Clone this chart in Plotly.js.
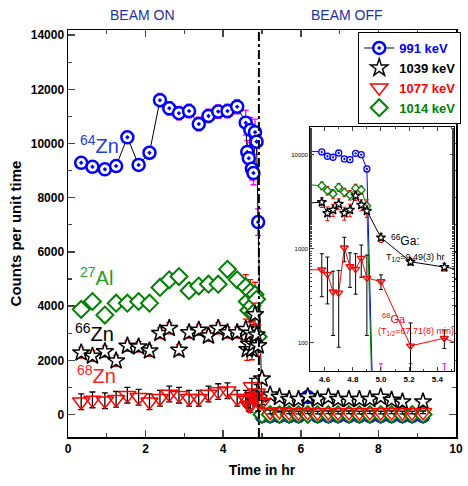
<!DOCTYPE html>
<html><head><meta charset="utf-8">
<script src="https://cdn.plot.ly/plotly-3.0.1.min.js"></script>
<style>html,body{margin:0;padding:0;background:#fff}#chart{width:468px;height:486px}</style>
</head><body><div id="chart"></div>
<script>
// ---- data ----
const timeHr = [0.34,0.63,0.95,1.24,1.53,1.82,2.10,2.37,2.61,2.86,3.12,3.37,3.62,3.87,4.11,4.36,
  4.58,4.62,4.66,4.70,4.74,4.78,4.82,4.86,4.90,
  5.00,5.21,5.45,5.70,5.94,6.18,6.43,6.71,6.96,7.24,7.51,7.78,8.06,8.34,8.62,8.87,9.15];
const cts991 = [9290,9140,9050,9170,10230,9210,9660,11600,11300,11120,11200,10720,11020,11180,11200,11360,
  10770,9690,9460,10500,9070,8910,10420,10070,7100,
  -60,-60,-60,-60,-60,650,-60,-60,-60,-60,-60,-60,-60,-60,-60,-60,-60];
const err991 = [200,200,200,200,220,200,220,250,250,250,250,250,250,250,250,260,
  460,430,440,460,420,430,480,470,490,
  60,60,60,60,60,60,60,60,60,60,60,60,60,60,60,60,60];
const cts1014 = [3880,4170,3670,4110,4110,4170,4110,4690,4970,5090,4570,4740,4810,4810,5360,4970,
  4710,4170,3850,4530,4010,3750,4430,4250,2870,
  0,0,0,0,0,0,0,0,0,0,0,0,0,0,0,0,0];
const err1014 = [130,130,130,130,130,130,130,130,130,130,130,130,130,130,130,130,
  450,420,430,450,420,430,450,440,460,
  40,40,40,40,40,40,40,40,40,40,40,40,40,40,40,40,40];
const cts1039 = [2280,2160,2320,1980,2530,2500,2350,3000,3180,2380,3020,3120,2900,3180,3020,3020,
  3140,2400,2600,3010,2400,2600,3690,2940,2540,
  1320,730,640,560,560,660,560,640,560,560,560,560,640,535,470,null,470];
const err1039 = [200,200,200,200,200,200,200,200,200,200,200,200,200,200,200,200,
  380,400,380,400,380,400,420,400,380,
  145,60,60,90,90,90,90,90,90,90,90,90,90,90,90,90,90];
const cts1077 = [470,540,510,560,715,635,470,600,755,715,600,600,755,845,880,600,
  600,540,350,340,1030,650,610,800,490,
  450,93,112,80,70,80,70,80,70,80,70,80,70,80,70,70,80];
const err1077 = [290,290,290,290,290,290,290,290,290,290,290,290,290,290,290,290,
  290,280,230,250,300,260,280,300,370,
  80,70,25,50,50,50,50,50,50,50,50,50,50,50,50,50,50];
const seriesNames = ['991 keV','1039 keV','1077 keV','1014 keV'];
const xTicks = [0,2,4,6,8,10];
const yTicks = [0,2000,4000,6000,8000,10000,12000,14000];
const insetYTicks = [100,1000,10000];
const insetYLabels = ['100','1000','10000'];

// ---- styling ----
const FONT = 'Liberation Sans, Arial, sans-serif';
const BLUE = '#0000ff', RED = '#ff0000', GREEN = '#008000', BLACK = '#000000', MAG = '#ff00ff';
const logFloor = arr => arr.map(v => (v === null ? null : Math.max(v, 0.01)));

// white-filled symbols hide the error bar inside the marker (as in the reference)
const specs = [
  {name: seriesNames[0], y: cts991, e: err991, sym: 'circle-dot', fill: '#fff', col: BLUE, ecol: MAG, size: 12, lw: 2.5, insSize: 6, mainLine: true},
  {name: seriesNames[1], y: cts1039, e: err1039, sym: 'star', fill: '#fff', col: BLACK, ecol: RED, size: 13, lw: 1.5, insSize: 7},
  {name: seriesNames[2], y: cts1077, e: err1077, sym: 'triangle-down-open', fill: RED, col: RED, ecol: BLACK, size: 15, lw: 1.5, insSize: 7},
  {name: seriesNames[3], y: cts1014, e: err1014, sym: 'diamond', fill: '#fff', col: GREEN, ecol: RED, size: 13, lw: 2, insSize: 6}
];

const traces = [];
const drawOrder = [0,3,1,2];
drawOrder.forEach(i => {
  const s = specs[i];
  traces.push({
    type: 'scatter', x: timeHr, y: s.y, xaxis: 'x', yaxis: 'y',
    mode: s.mainLine ? 'lines+markers' : 'markers',
    name: '<span style="color:' + s.col + '">' + s.name + '</span>',
    legendrank: i + 1,
    line: {color: BLACK, width: 1},
    marker: {symbol: s.sym, size: s.size, color: s.fill, line: {color: s.col, width: s.lw}},
    error_y: {type: 'data', array: s.e, visible: true, color: s.ecol, thickness: 1.3, width: 3},
    connectgaps: false
  });
});
drawOrder.forEach(i => {
  const s = specs[i];
  traces.push({
    type: 'scatter', x: timeHr, y: logFloor(s.y), xaxis: 'x2', yaxis: 'y2',
    mode: 'lines+markers', showlegend: false, cliponaxis: true,
    line: {color: s.col, width: 1},
    marker: {symbol: s.sym, size: s.insSize, color: s.fill, line: {color: s.col, width: 1.3}},
    error_y: {type: 'data', array: s.e, visible: true, color: s.ecol, thickness: 1, width: 2}
  });
});

const tickFont = {family: FONT, size: 12, color: '#000', weight: 'bold'};
const layout = {
  width: 468, height: 486,
  margin: {l: 68, r: 7, t: 30, b: 49},
  paper_bgcolor: '#fff', plot_bgcolor: '#fff',
  font: {family: FONT, color: '#000'},
  showlegend: true,
  legend: {x: 0.748, y: 0.995, xanchor: 'left', yanchor: 'top', bgcolor: '#fff',
    bordercolor: '#000', borderwidth: 1, font: {family: FONT, size: 13, weight: 'bold'},
    tracegroupgap: 0},
  xaxis: {range: [0, 10], tickvals: xTicks, ticks: 'inside', ticklen: 7, tickwidth: 1.5,
    showline: true, linewidth: 1.5, linecolor: '#000', mirror: 'allticks', showgrid: false, zeroline: false,
    minor: {ticks: 'inside', ticklen: 4, dtick: 1, tick0: 0, tickwidth: 1.2},
    tickfont: tickFont,
    title: {text: 'Time in hr', font: {family: FONT, size: 14, weight: 'bold'}, standoff: 10}},
  yaxis: {range: [-830, 14190], tickvals: yTicks, tickformat: 'd', ticks: 'inside', ticklen: 7, tickwidth: 1.5,
    showline: true, linewidth: 1.5, linecolor: '#000', mirror: 'allticks', showgrid: false, zeroline: false,
    minor: {ticks: 'inside', ticklen: 4, dtick: 1000, tick0: 0, tickwidth: 1.2},
    tickfont: tickFont,
    title: {text: 'Counts per unit time', font: {family: FONT, size: 15, weight: 'bold'}, standoff: 5}},
  xaxis2: {domain: [0.624, 0.995], anchor: 'y2', range: [4.497, 5.519], dtick: 0.2, tick0: 4.6,
    ticks: 'inside', ticklen: 4, showline: true, linewidth: 1, linecolor: '#000', mirror: 'allticks',
    showgrid: false, zeroline: false, tickformat: '.1f',
    minor: {ticks: 'inside', ticklen: 2, dtick: 0.1},
    tickfont: {family: FONT, size: 8, weight: 'bold'}},
  yaxis2: {domain: [0.162, 0.761], anchor: 'x2', type: 'log', range: [1.70, 4.295],
    tickvals: insetYTicks, ticktext: insetYLabels,
    ticks: 'inside', ticklen: 4, showline: true, linewidth: 1, linecolor: '#000', mirror: 'allticks',
    showgrid: false, zeroline: false,
    minor: {ticks: 'inside', ticklen: 2},
    tickfont: {family: FONT, size: 6}},
  shapes: [
    {type: 'line', xref: 'x', yref: 'paper', x0: 4.92, x1: 4.92, y0: 0, y1: 1,
      line: {color: '#000', width: 2, dash: 'dashdot'}}
  ],
  annotations: [
    {xref: 'paper', yref: 'paper', x: 0.191, y: 1.037, xanchor: 'center', yanchor: 'middle', text: 'BEAM ON', showarrow: false,
      font: {family: FONT, size: 14, color: '#1f2fa8'}},
    {xref: 'paper', yref: 'paper', x: 0.718, y: 1.037, xanchor: 'center', yanchor: 'middle', text: 'BEAM OFF', showarrow: false,
      font: {family: FONT, size: 14, color: '#1f2fa8'}},
    {xref: 'x', yref: 'y', x: 0.25, y: 9950, xanchor: 'left', text: '<sup>64</sup>Zn', showarrow: false,
      font: {family: FONT, size: 20, color: '#1e3cdc'}},
    {xref: 'x', yref: 'y', x: 0.25, y: 5110, xanchor: 'left', text: '<sup>27</sup>Al', showarrow: false,
      font: {family: FONT, size: 20, color: '#2a9a2a'}},
    {xref: 'x', yref: 'y', x: 0.13, y: 3010, xanchor: 'left', text: '<sup>66</sup>Zn', showarrow: false,
      font: {family: FONT, size: 20, color: '#000'}},
    {xref: 'x', yref: 'y', x: 0.18, y: 1490, xanchor: 'left', text: '<sup>68</sup>Zn', showarrow: false,
      font: {family: FONT, size: 20, color: '#ff2020'}},
    {xref: 'x2', yref: 'y2', x: 5.175, y: 3.096, text: '<sup>66</sup>Ga:', showarrow: false,
      font: {family: FONT, size: 12, color: '#000'}},
    {xref: 'x2', yref: 'y2', x: 5.246, y: 2.904, text: 'T<sub>1/2</sub>=9.49(3) hr', showarrow: false,
      font: {family: FONT, size: 9, color: '#000'}},
    {xref: 'x2', yref: 'y2', x: 5.091, y: 2.266, text: '<sup>68</sup>Ga', showarrow: false,
      font: {family: FONT, size: 11, color: '#ff0000'}},
    {xref: 'x2', yref: 'y2', x: 5.25, y: 2.117, text: '(T<sub>1/2</sub>=67.71(8) min)', showarrow: false,
      font: {family: FONT, size: 9, color: '#ff0000'}}
  ]
};

Plotly.newPlot('chart', traces, layout, {displayModeBar: false, staticPlot: true});
</script>
</body></html>
